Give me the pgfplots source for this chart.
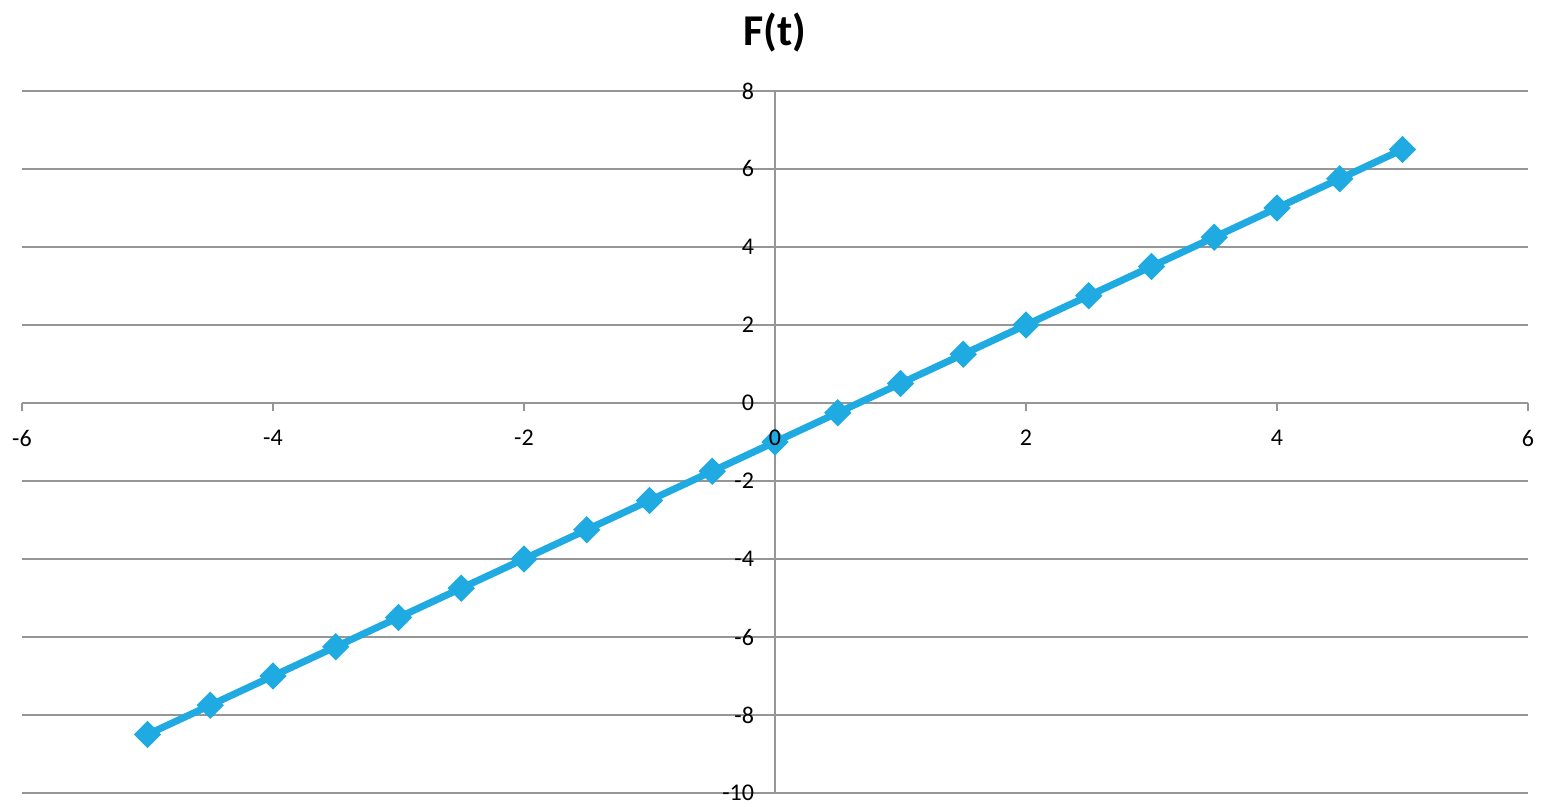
\documentclass[border=0pt]{standalone}
\usepackage{pgfplots}
\pgfplotsset{compat=1.18}
\usepackage{fontspec}
\setmainfont{Carlito}
\definecolor{lineblue}{RGB}{31,171,226}
\definecolor{gridgray}{RGB}{150,150,150}
\begin{document}
\begin{tikzpicture}
\begin{axis}[
  name=ax,
  scale only axis,
  width=753pt, height=351pt,
  xmin=-6, xmax=6, ymin=-10, ymax=8,
  axis lines=middle,
  axis line style={gridgray, line width=1.2pt, -},
  xtick={-6,-4,...,6},
  xticklabels={-6,-4,-2,{},2,4,6},
  ytick={-10,-8,...,8},
  hide obscured x ticks=false,
  hide obscured y ticks=false,
  ymajorgrids,
  grid style={gridgray, line width=1.2pt},
  major tick style={gridgray, line width=1.2pt},
  tick align=outside,
  major tick length=4pt,
  /pgf/number format/assume math mode=true,
  ticklabel style={font=\fontsize{12}{14}\selectfont, text=black},
  xticklabel style={yshift=-6pt},
  yticklabel style={xshift=-3pt},
  clip=false,
]
\addplot[lineblue, line width=3.5pt, mark=square*, mark size=4.6pt, mark options={fill=lineblue, draw=lineblue, line width=0.5pt, rotate=45}] coordinates {
(-5,-8.5) (-4.5,-7.75) (-4,-7) (-3.5,-6.25) (-3,-5.5) (-2.5,-4.75) (-2,-4) (-1.5,-3.25) (-1,-2.5) (-0.5,-1.75) (0,-1) (0.5,-0.25) (1,0.5) (1.5,1.25) (2,2) (2.5,2.75) (3,3.5) (3.5,4.25) (4,5) (4.5,5.75) (5,6.5)
};
\coordinate (zlab) at (axis cs:0,0);
\node[font=\bfseries\fontsize{22}{26}\selectfont] at (axis cs:0,9.51) {F(t)};
\coordinate (bbsw) at (axis cs:-6.1753,-10.359);
\coordinate (bbne) at (axis cs:6.1355,10.333);
\end{axis}
\node[anchor=north, font=\fontsize{12}{14}\selectfont, yshift=-10pt] at (zlab) {0};
\pgfresetboundingbox
\path[use as bounding box] (bbsw) rectangle (bbne);
\end{tikzpicture}
\end{document}
